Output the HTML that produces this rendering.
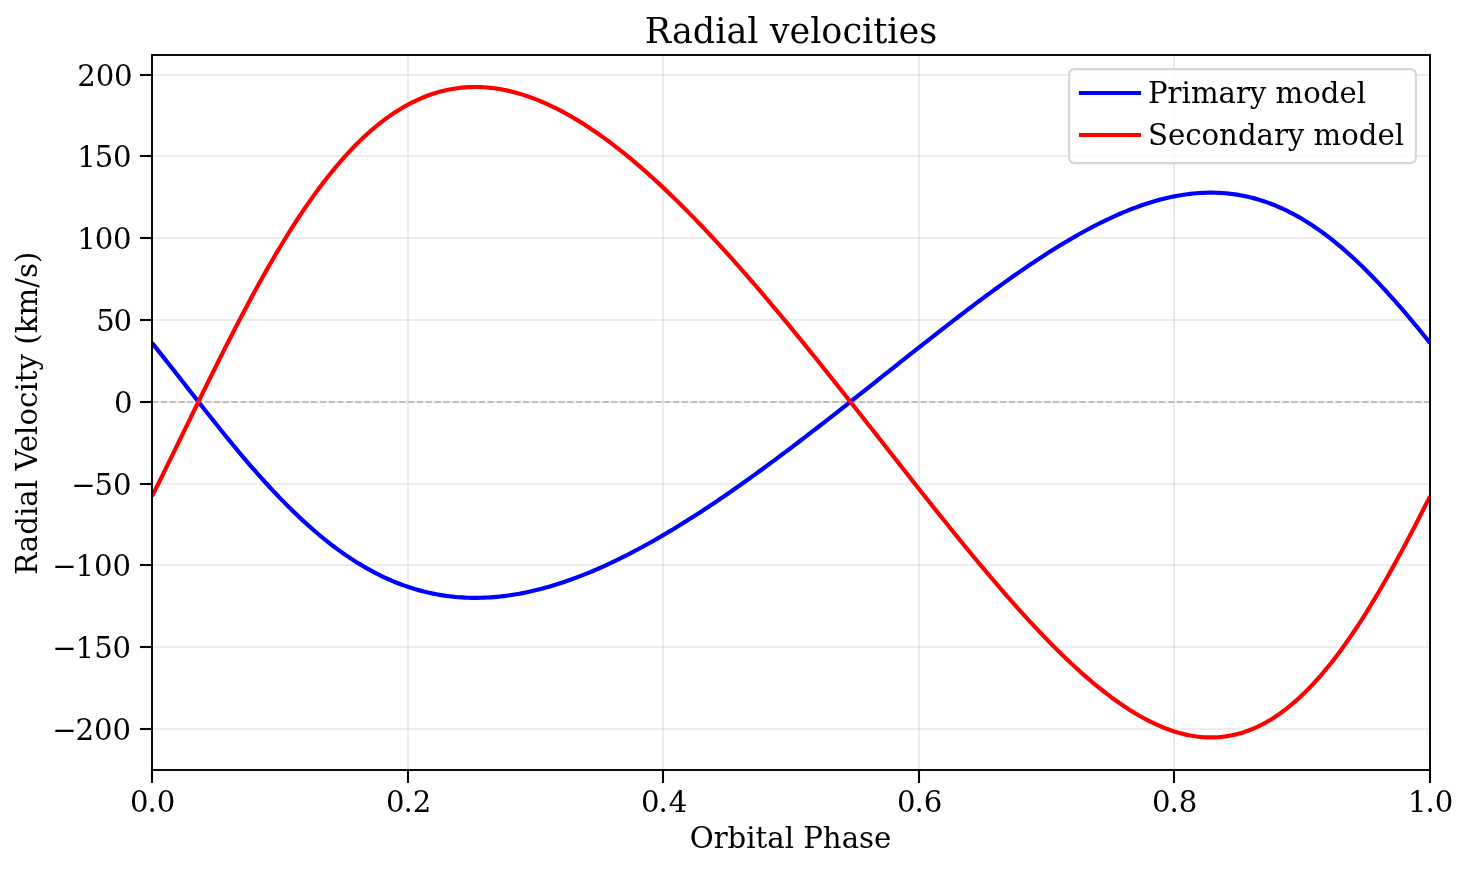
<!DOCTYPE html>
<html lang="en"><head><meta charset="utf-8"><title>Radial velocities</title>
<style>html,body{margin:0;padding:0;background:#fff;overflow:hidden}svg{display:block}text{font-family:"DejaVu Serif","Liberation Serif",serif;fill:#000}</style></head><body>
<svg width="1468" height="869" viewBox="0 0 1468 869">
<rect width="1468" height="869" fill="#fff"/>
<defs><clipPath id="ax"><rect x="152.00" y="54.66" width="1278.00" height="714.98"/></clipPath></defs>
<g clip-path="url(#ax)"><g stroke="#b0b0b0" stroke-opacity="0.3" stroke-width="1.67" fill="none">
<line x1="152.00" y1="54.66" x2="152.00" y2="769.64"/>
<line x1="408.00" y1="54.66" x2="408.00" y2="769.64"/>
<line x1="663.00" y1="54.66" x2="663.00" y2="769.64"/>
<line x1="919.00" y1="54.66" x2="919.00" y2="769.64"/>
<line x1="1174.00" y1="54.66" x2="1174.00" y2="769.64"/>
<line x1="1430.00" y1="54.66" x2="1430.00" y2="769.64"/>
<line x1="152.00" y1="729.00" x2="1430.00" y2="729.00"/>
<line x1="152.00" y1="647.00" x2="1430.00" y2="647.00"/>
<line x1="152.00" y1="565.00" x2="1430.00" y2="565.00"/>
<line x1="152.00" y1="484.00" x2="1430.00" y2="484.00"/>
<line x1="152.00" y1="402.00" x2="1430.00" y2="402.00"/>
<line x1="152.00" y1="320.00" x2="1430.00" y2="320.00"/>
<line x1="152.00" y1="238.00" x2="1430.00" y2="238.00"/>
<line x1="152.00" y1="156.00" x2="1430.00" y2="156.00"/>
<line x1="152.00" y1="75.00" x2="1430.00" y2="75.00"/>
</g>
<path d="M152.00 342.85 L155.19 346.83 L158.39 350.83 L161.59 354.84 L164.78 358.87 L167.97 362.92 L171.17 366.97 L174.37 371.04 L177.56 375.11 L180.75 379.19 L183.95 383.27 L187.15 387.35 L190.34 391.44 L193.53 395.51 L196.73 399.59 L199.93 403.66 L203.12 407.71 L206.31 411.76 L209.51 415.80 L212.70 419.82 L215.90 423.82 L219.09 427.81 L222.29 431.77 L225.49 435.72 L228.68 439.64 L231.88 443.53 L235.07 447.40 L238.26 451.24 L241.46 455.05 L244.65 458.82 L247.85 462.57 L251.05 466.28 L254.24 469.95 L257.44 473.58 L260.63 477.18 L263.83 480.73 L267.02 484.25 L270.22 487.72 L273.41 491.15 L276.61 494.53 L279.80 497.87 L283.00 501.16 L286.19 504.40 L289.38 507.59 L292.58 510.73 L295.77 513.82 L298.97 516.87 L302.17 519.85 L305.36 522.79 L308.56 525.67 L311.75 528.50 L314.94 531.27 L318.14 533.99 L321.34 536.65 L324.53 539.26 L327.73 541.81 L330.92 544.30 L334.12 546.73 L337.31 549.11 L340.50 551.43 L343.70 553.69 L346.89 555.90 L350.09 558.04 L353.28 560.13 L356.48 562.16 L359.68 564.13 L362.87 566.04 L366.07 567.90 L369.26 569.69 L372.46 571.43 L375.65 573.11 L378.85 574.73 L382.04 576.29 L385.24 577.80 L388.43 579.25 L391.62 580.64 L394.82 581.97 L398.01 583.25 L401.21 584.47 L404.40 585.64 L407.60 586.75 L410.80 587.80 L413.99 588.80 L417.19 589.74 L420.38 590.63 L423.57 591.47 L426.77 592.25 L429.96 592.98 L433.16 593.65 L436.36 594.28 L439.55 594.85 L442.75 595.37 L445.94 595.84 L449.13 596.26 L452.33 596.63 L455.53 596.95 L458.72 597.22 L461.91 597.44 L465.11 597.61 L468.31 597.74 L471.50 597.82 L474.69 597.85 L477.89 597.84 L481.09 597.78 L484.28 597.67 L487.48 597.52 L490.67 597.33 L493.87 597.10 L497.06 596.82 L500.26 596.50 L503.45 596.13 L506.65 595.73 L509.84 595.28 L513.04 594.80 L516.23 594.27 L519.43 593.71 L522.62 593.10 L525.82 592.46 L529.01 591.78 L532.20 591.06 L535.40 590.31 L538.60 589.52 L541.79 588.69 L544.99 587.83 L548.18 586.93 L551.38 586.00 L554.57 585.03 L557.76 584.04 L560.96 583.00 L564.15 581.94 L567.35 580.84 L570.55 579.72 L573.74 578.56 L576.93 577.37 L580.13 576.15 L583.33 574.90 L586.52 573.62 L589.72 572.31 L592.91 570.97 L596.11 569.61 L599.30 568.22 L602.49 566.80 L605.69 565.35 L608.88 563.88 L612.08 562.38 L615.27 560.85 L618.47 559.30 L621.66 557.73 L624.86 556.13 L628.06 554.51 L631.25 552.86 L634.44 551.19 L637.64 549.50 L640.84 547.78 L644.03 546.04 L647.23 544.29 L650.42 542.50 L653.62 540.70 L656.81 538.88 L660.01 537.04 L663.20 535.17 L666.39 533.29 L669.59 531.39 L672.79 529.47 L675.98 527.53 L679.18 525.57 L682.37 523.60 L685.56 521.60 L688.76 519.59 L691.95 517.56 L695.15 515.52 L698.35 513.45 L701.54 511.38 L704.74 509.28 L707.93 507.17 L711.12 505.05 L714.32 502.91 L717.51 500.76 L720.71 498.59 L723.90 496.41 L727.10 494.21 L730.30 492.00 L733.49 489.78 L736.69 487.54 L739.88 485.29 L743.08 483.03 L746.27 480.76 L749.47 478.47 L752.66 476.18 L755.86 473.87 L759.05 471.55 L762.25 469.22 L765.44 466.88 L768.63 464.53 L771.83 462.17 L775.02 459.80 L778.22 457.43 L781.41 455.04 L784.61 452.64 L787.80 450.24 L791.00 447.82 L794.20 445.40 L797.39 442.97 L800.59 440.53 L803.78 438.09 L806.97 435.64 L810.17 433.18 L813.36 430.72 L816.56 428.25 L819.75 425.77 L822.95 423.29 L826.14 420.80 L829.34 418.31 L832.53 415.81 L835.73 413.31 L838.92 410.80 L842.12 408.29 L845.31 405.78 L848.51 403.26 L851.70 400.74 L854.90 398.22 L858.10 395.69 L861.29 393.16 L864.49 390.63 L867.68 388.10 L870.88 385.57 L874.07 383.03 L877.26 380.50 L880.46 377.96 L883.65 375.42 L886.85 372.89 L890.05 370.35 L893.24 367.81 L896.44 365.28 L899.63 362.74 L902.83 360.21 L906.02 357.68 L909.22 355.15 L912.41 352.63 L915.61 350.11 L918.80 347.59 L922.00 345.07 L925.19 342.56 L928.39 340.05 L931.58 337.55 L934.78 335.05 L937.97 332.55 L941.17 330.07 L944.36 327.58 L947.56 325.11 L950.75 322.64 L953.95 320.18 L957.14 317.73 L960.34 315.28 L963.53 312.84 L966.73 310.41 L969.92 307.99 L973.11 305.58 L976.31 303.18 L979.50 300.79 L982.70 298.41 L985.89 296.05 L989.09 293.69 L992.28 291.35 L995.48 289.02 L998.67 286.70 L1001.87 284.40 L1005.06 282.11 L1008.26 279.83 L1011.45 277.57 L1014.65 275.33 L1017.85 273.10 L1021.04 270.88 L1024.24 268.69 L1027.43 266.51 L1030.62 264.35 L1033.82 262.21 L1037.01 260.09 L1040.21 257.99 L1043.40 255.91 L1046.60 253.85 L1049.80 251.81 L1052.99 249.80 L1056.18 247.81 L1059.38 245.84 L1062.58 243.89 L1065.77 241.97 L1068.97 240.08 L1072.16 238.21 L1075.36 236.37 L1078.55 234.55 L1081.74 232.76 L1084.94 231.00 L1088.14 229.28 L1091.33 227.58 L1094.53 225.91 L1097.72 224.27 L1100.91 222.67 L1104.11 221.09 L1107.31 219.56 L1110.50 218.05 L1113.70 216.58 L1116.89 215.15 L1120.09 213.75 L1123.28 212.39 L1126.48 211.07 L1129.67 209.79 L1132.87 208.55 L1136.06 207.34 L1139.26 206.18 L1142.45 205.06 L1145.64 203.99 L1148.84 202.95 L1152.03 201.96 L1155.23 201.02 L1158.42 200.12 L1161.62 199.27 L1164.82 198.47 L1168.01 197.71 L1171.20 197.01 L1174.40 196.35 L1177.60 195.75 L1180.79 195.19 L1183.98 194.69 L1187.18 194.24 L1190.38 193.85 L1193.57 193.51 L1196.77 193.22 L1199.96 192.99 L1203.15 192.82 L1206.35 192.71 L1209.55 192.65 L1212.74 192.66 L1215.93 192.72 L1219.13 192.84 L1222.33 193.03 L1225.52 193.28 L1228.72 193.59 L1231.91 193.96 L1235.11 194.39 L1238.30 194.89 L1241.50 195.46 L1244.69 196.09 L1247.88 196.79 L1251.08 197.55 L1254.28 198.38 L1257.47 199.27 L1260.66 200.24 L1263.86 201.27 L1267.06 202.37 L1270.25 203.54 L1273.45 204.78 L1276.64 206.09 L1279.84 207.46 L1283.03 208.91 L1286.23 210.42 L1289.42 212.01 L1292.62 213.66 L1295.81 215.39 L1299.00 217.18 L1302.20 219.04 L1305.39 220.98 L1308.59 222.98 L1311.78 225.05 L1314.98 227.19 L1318.17 229.39 L1321.37 231.67 L1324.57 234.01 L1327.76 236.42 L1330.95 238.89 L1334.15 241.43 L1337.35 244.04 L1340.54 246.71 L1343.73 249.44 L1346.93 252.24 L1350.12 255.09 L1353.32 258.01 L1356.52 260.99 L1359.71 264.02 L1362.90 267.12 L1366.10 270.27 L1369.30 273.47 L1372.49 276.73 L1375.68 280.04 L1378.88 283.40 L1382.08 286.81 L1385.27 290.27 L1388.47 293.78 L1391.66 297.33 L1394.86 300.93 L1398.05 304.56 L1401.25 308.24 L1404.44 311.96 L1407.63 315.71 L1410.83 319.50 L1414.03 323.32 L1417.22 327.17 L1420.41 331.05 L1423.61 334.96 L1426.81 338.89 L1430.00 342.85" fill="none" stroke="#0000ff" stroke-width="4.17" stroke-linejoin="round"/>
<path d="M152.00 496.32 L155.19 489.93 L158.39 483.52 L161.59 477.07 L164.78 470.60 L167.97 464.11 L171.17 457.60 L174.37 451.07 L177.56 444.53 L180.75 437.99 L183.95 431.44 L187.15 424.88 L190.34 418.33 L193.53 411.78 L196.73 405.25 L199.93 398.72 L203.12 392.20 L206.31 385.71 L209.51 379.23 L212.70 372.78 L215.90 366.35 L219.09 359.95 L222.29 353.59 L225.49 347.26 L228.68 340.96 L231.88 334.71 L235.07 328.50 L238.26 322.34 L241.46 316.23 L244.65 310.17 L247.85 304.16 L251.05 298.20 L254.24 292.31 L257.44 286.47 L260.63 280.70 L263.83 274.99 L267.02 269.35 L270.22 263.78 L273.41 258.28 L276.61 252.85 L279.80 247.50 L283.00 242.22 L286.19 237.01 L289.38 231.89 L292.58 226.84 L295.77 221.88 L298.97 217.00 L302.17 212.20 L305.36 207.49 L308.56 202.87 L311.75 198.33 L314.94 193.88 L318.14 189.52 L321.34 185.24 L324.53 181.06 L327.73 176.97 L330.92 172.97 L334.12 169.06 L337.31 165.24 L340.50 161.52 L343.70 157.89 L346.89 154.35 L350.09 150.90 L353.28 147.55 L356.48 144.30 L359.68 141.13 L362.87 138.06 L366.07 135.09 L369.26 132.21 L372.46 129.42 L375.65 126.72 L378.85 124.12 L382.04 121.61 L385.24 119.19 L388.43 116.87 L391.62 114.63 L394.82 112.49 L398.01 110.44 L401.21 108.48 L404.40 106.61 L407.60 104.83 L410.80 103.14 L413.99 101.54 L417.19 100.02 L420.38 98.60 L423.57 97.25 L426.77 96.00 L429.96 94.83 L433.16 93.75 L436.36 92.74 L439.55 91.83 L442.75 90.99 L445.94 90.24 L449.13 89.57 L452.33 88.97 L455.53 88.46 L458.72 88.03 L461.91 87.67 L465.11 87.39 L468.31 87.19 L471.50 87.06 L474.69 87.01 L477.89 87.03 L481.09 87.13 L484.28 87.29 L487.48 87.53 L490.67 87.84 L493.87 88.22 L497.06 88.67 L500.26 89.18 L503.45 89.76 L506.65 90.41 L509.84 91.13 L513.04 91.91 L516.23 92.75 L519.43 93.66 L522.62 94.63 L525.82 95.66 L529.01 96.75 L532.20 97.90 L535.40 99.12 L538.60 100.39 L541.79 101.71 L544.99 103.10 L548.18 104.54 L551.38 106.03 L554.57 107.58 L557.76 109.18 L560.96 110.84 L564.15 112.55 L567.35 114.31 L570.55 116.12 L573.74 117.98 L576.93 119.89 L580.13 121.85 L583.33 123.85 L586.52 125.91 L589.72 128.01 L592.91 130.15 L596.11 132.34 L599.30 134.58 L602.49 136.86 L605.69 139.18 L608.88 141.54 L612.08 143.95 L615.27 146.39 L618.47 148.88 L621.66 151.41 L624.86 153.98 L628.06 156.58 L631.25 159.22 L634.44 161.90 L637.64 164.62 L640.84 167.37 L644.03 170.16 L647.23 172.99 L650.42 175.85 L653.62 178.74 L656.81 181.66 L660.01 184.62 L663.20 187.61 L666.39 190.63 L669.59 193.69 L672.79 196.77 L675.98 199.88 L679.18 203.03 L682.37 206.20 L685.56 209.40 L688.76 212.63 L691.95 215.88 L695.15 219.17 L698.35 222.47 L701.54 225.81 L704.74 229.17 L707.93 232.56 L711.12 235.97 L714.32 239.40 L717.51 242.86 L720.71 246.34 L723.90 249.84 L727.10 253.37 L730.30 256.91 L733.49 260.48 L736.69 264.07 L739.88 267.68 L743.08 271.31 L746.27 274.96 L749.47 278.62 L752.66 282.31 L755.86 286.01 L759.05 289.73 L762.25 293.47 L765.44 297.23 L768.63 301.00 L771.83 304.79 L775.02 308.59 L778.22 312.41 L781.41 316.24 L784.61 320.09 L787.80 323.95 L791.00 327.82 L794.20 331.71 L797.39 335.61 L800.59 339.52 L803.78 343.44 L806.97 347.38 L810.17 351.32 L813.36 355.28 L816.56 359.24 L819.75 363.22 L822.95 367.20 L826.14 371.20 L829.34 375.20 L832.53 379.21 L835.73 383.22 L838.92 387.24 L842.12 391.27 L845.31 395.31 L848.51 399.35 L851.70 403.39 L854.90 407.45 L858.10 411.50 L861.29 415.56 L864.49 419.62 L867.68 423.68 L870.88 427.75 L874.07 431.82 L877.26 435.89 L880.46 439.96 L883.65 444.03 L886.85 448.11 L890.05 452.18 L893.24 456.25 L896.44 460.32 L899.63 464.39 L902.83 468.45 L906.02 472.51 L909.22 476.57 L912.41 480.62 L915.61 484.67 L918.80 488.72 L922.00 492.76 L925.19 496.79 L928.39 500.81 L931.58 504.83 L934.78 508.84 L937.97 512.85 L941.17 516.84 L944.36 520.82 L947.56 524.80 L950.75 528.76 L953.95 532.71 L957.14 536.65 L960.34 540.57 L963.53 544.49 L966.73 548.38 L969.92 552.27 L973.11 556.14 L976.31 559.99 L979.50 563.82 L982.70 567.64 L985.89 571.44 L989.09 575.22 L992.28 578.99 L995.48 582.73 L998.67 586.45 L1001.87 590.15 L1005.06 593.82 L1008.26 597.47 L1011.45 601.10 L1014.65 604.70 L1017.85 608.28 L1021.04 611.83 L1024.24 615.36 L1027.43 618.85 L1030.62 622.32 L1033.82 625.75 L1037.01 629.15 L1040.21 632.53 L1043.40 635.87 L1046.60 639.17 L1049.80 642.44 L1052.99 645.68 L1056.18 648.88 L1059.38 652.04 L1062.58 655.16 L1065.77 658.24 L1068.97 661.28 L1072.16 664.28 L1075.36 667.24 L1078.55 670.15 L1081.74 673.02 L1084.94 675.84 L1088.14 678.62 L1091.33 681.35 L1094.53 684.03 L1097.72 686.65 L1100.91 689.23 L1104.11 691.75 L1107.31 694.22 L1110.50 696.64 L1113.70 698.99 L1116.89 701.30 L1120.09 703.54 L1123.28 705.72 L1126.48 707.84 L1129.67 709.90 L1132.87 711.89 L1136.06 713.82 L1139.26 715.69 L1142.45 717.49 L1145.64 719.21 L1148.84 720.87 L1152.03 722.46 L1155.23 723.97 L1158.42 725.41 L1161.62 726.78 L1164.82 728.07 L1168.01 729.28 L1171.20 730.42 L1174.40 731.47 L1177.60 732.44 L1180.79 733.33 L1183.98 734.13 L1187.18 734.85 L1190.38 735.49 L1193.57 736.03 L1196.77 736.49 L1199.96 736.86 L1203.15 737.13 L1206.35 737.31 L1209.55 737.40 L1212.74 737.40 L1215.93 737.30 L1219.13 737.10 L1222.33 736.80 L1225.52 736.40 L1228.72 735.91 L1231.91 735.31 L1235.11 734.61 L1238.30 733.81 L1241.50 732.90 L1244.69 731.89 L1247.88 730.77 L1251.08 729.55 L1254.28 728.21 L1257.47 726.78 L1260.66 725.23 L1263.86 723.57 L1267.06 721.80 L1270.25 719.93 L1273.45 717.94 L1276.64 715.84 L1279.84 713.63 L1283.03 711.31 L1286.23 708.88 L1289.42 706.34 L1292.62 703.68 L1295.81 700.91 L1299.00 698.04 L1302.20 695.04 L1305.39 691.94 L1308.59 688.73 L1311.78 685.41 L1314.98 681.97 L1318.17 678.43 L1321.37 674.78 L1324.57 671.02 L1327.76 667.16 L1330.95 663.18 L1334.15 659.11 L1337.35 654.93 L1340.54 650.64 L1343.73 646.25 L1346.93 641.77 L1350.12 637.18 L1353.32 632.50 L1356.52 627.72 L1359.71 622.85 L1362.90 617.88 L1366.10 612.83 L1369.30 607.68 L1372.49 602.45 L1375.68 597.14 L1378.88 591.74 L1382.08 586.27 L1385.27 580.71 L1388.47 575.08 L1391.66 569.38 L1394.86 563.61 L1398.05 557.77 L1401.25 551.87 L1404.44 545.91 L1407.63 539.88 L1410.83 533.80 L1414.03 527.67 L1417.22 521.49 L1420.41 515.26 L1423.61 508.99 L1426.81 502.67 L1430.00 496.32" fill="none" stroke="#ff0000" stroke-width="4.17" stroke-linejoin="round"/>
<line x1="152.00" y1="402.00" x2="1430.00" y2="402.00" stroke="#808080" stroke-opacity="0.56" stroke-width="1.67" stroke-dasharray="6.1667 2.6667"/>
</g>
<g stroke="#000" stroke-width="2.08">
<line x1="152.00" y1="770" x2="152.00" y2="783"/>
<line x1="408.00" y1="770" x2="408.00" y2="783"/>
<line x1="663.00" y1="770" x2="663.00" y2="783"/>
<line x1="919.00" y1="770" x2="919.00" y2="783"/>
<line x1="1174.00" y1="770" x2="1174.00" y2="783"/>
<line x1="1430.00" y1="770" x2="1430.00" y2="783"/>
<line x1="152" y1="729.00" x2="140" y2="729.00"/>
<line x1="152" y1="647.00" x2="140" y2="647.00"/>
<line x1="152" y1="565.00" x2="140" y2="565.00"/>
<line x1="152" y1="484.00" x2="140" y2="484.00"/>
<line x1="152" y1="402.00" x2="140" y2="402.00"/>
<line x1="152" y1="320.00" x2="140" y2="320.00"/>
<line x1="152" y1="238.00" x2="140" y2="238.00"/>
<line x1="152" y1="156.00" x2="140" y2="156.00"/>
<line x1="152" y1="75.00" x2="140" y2="75.00"/>
</g>
<rect x="152" y="55" width="1278" height="715" fill="none" stroke="#000" stroke-width="1.9"/>
<g font-size="29.17">
<text x="129.92 147.39 156.76" y="812">0.0</text>
<text x="385.92 403.39 412.75" y="812">0.2</text>
<text x="640.92 658.39 668.70" y="812">0.4</text>
<text x="896.92 914.39 923.76" y="812">0.6</text>
<text x="1151.92 1169.39 1178.72" y="812">0.8</text>
<text x="1408.04 1425.39 1434.76" y="812">1.0</text>
<text x="52.18 75.57 93.93 112.49" y="740.00">−200</text>
<text x="52.18 75.45 94.13 112.49" y="658.00">−150</text>
<text x="52.18 75.45 93.93 112.49" y="576.00">−100</text>
<text x="71.23 94.62 112.98" y="495.00">−50</text>
<text x="113.99" y="413.00">0</text>
<text x="96.14 113.51" y="331.00">50</text>
<text x="77.30 94.70 112.99" y="249.00">100</text>
<text x="77.30 94.63 112.99" y="167.00">150</text>
<text x="77.32 95.70 113.99" y="86.00">200</text>
</g>
<text x="790.50" y="848" font-size="29.17" text-anchor="middle">Orbital Phase</text>
<text transform="translate(37 413.2) rotate(-90)" font-size="29.17" letter-spacing="0.038" text-anchor="middle">Radial Velocity (km/s)</text>
<text x="791.00" y="42.5" font-size="35.00" text-anchor="middle">Radial velocities</text>
<path d="M1074.93 69.10 L1410.07 69.10 Q1415.90 69.10 1415.90 74.93 L1415.90 157.27 Q1415.90 163.10 1410.07 163.10 L1074.93 163.10 Q1069.10 163.10 1069.10 157.27 L1069.10 74.93 Q1069.10 69.10 1074.93 69.10 Z" fill="#fff" fill-opacity="0.8" stroke="#ccc" stroke-opacity="0.8" stroke-width="2.08"/>
<line x1="1081" y1="93" x2="1139" y2="93" stroke="#0000ff" stroke-width="4.17" stroke-linecap="square"/>
<line x1="1081" y1="135" x2="1139" y2="135" stroke="#ff0000" stroke-width="4.17" stroke-linecap="square"/>
<text x="1148" y="103" font-size="29.17">Primary model</text>
<text x="1148" y="145" font-size="29.17">Secondary model</text>
</svg></body></html>
